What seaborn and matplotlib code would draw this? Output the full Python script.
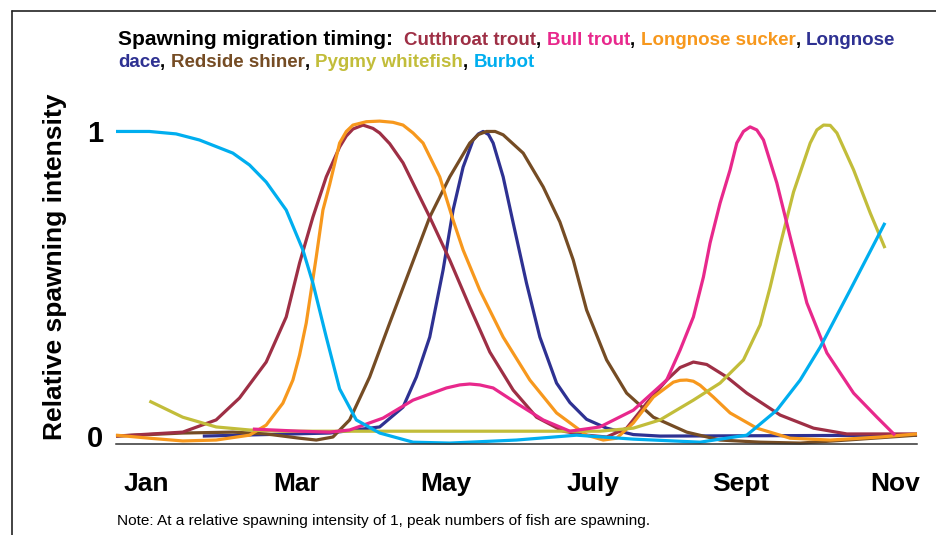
"""
Recriação do gráfico de época de migração para desova.
"""

import pandas as pd
import matplotlib.pyplot as plt
import seaborn as sns
from matplotlib.lines import Line2D

# Posição em meses (0 = início de jan, 12 = fim de dez) e intensidade relativa
cutthroat_x = [0.0, 1.0, 1.5, 1.85, 2.25, 2.55, 2.75, 2.95, 3.15, 3.35, 3.45, 3.55, 3.7, 3.85, 3.95,
               4.1, 4.3, 4.7, 5.0, 5.3, 5.6, 5.95, 6.3, 6.7, 7.05, 7.35, 7.65, 7.95, 8.25, 8.45,
               8.65, 8.85, 9.15, 9.45, 9.95, 10.45, 10.95, 12.0]
cutthroat_y = [0.0, 0.013, 0.053, 0.125, 0.243, 0.391, 0.568, 0.719, 0.851, 0.949, 0.985, 1.008,
               1.021, 1.01, 0.995, 0.96, 0.897, 0.719, 0.578, 0.424, 0.276, 0.151, 0.062, 0.016,
               0.003, -0.003, 0.026, 0.108, 0.184, 0.225, 0.243, 0.235, 0.194, 0.141, 0.069, 0.026,
               0.007, 0.007]

bull_x = [2.05, 2.75, 3.2, 3.5, 4.0, 4.45, 4.95, 5.15, 5.3, 5.45, 5.65, 6.0, 6.4, 6.8, 7.25, 7.75,
          8.25, 8.45, 8.65, 8.8, 8.9, 9.05, 9.2, 9.3, 9.4, 9.5, 9.6, 9.7, 9.9, 10.1, 10.35, 10.65,
          11.05, 11.4, 11.67]
bull_y = [0.023, 0.016, 0.013, 0.02, 0.059, 0.118, 0.158, 0.168, 0.171, 0.168, 0.158, 0.108, 0.053,
          0.016, 0.030, 0.085, 0.184, 0.282, 0.391, 0.522, 0.634, 0.765, 0.874, 0.962, 1.0, 1.015,
          1.005, 0.972, 0.831, 0.654, 0.437, 0.273, 0.141, 0.062, 0.003]

sucker_x = [0.0, 0.5, 1.0, 1.5, 2.0, 2.25, 2.5, 2.65, 2.75, 2.85, 3.0, 3.1, 3.2, 3.35, 3.45, 3.55,
            3.75, 3.95, 4.15, 4.3, 4.45, 4.6, 4.85, 5.05, 5.2, 5.45, 5.8, 6.2, 6.6, 7.05, 7.3, 7.5,
            7.75, 8.05, 8.35, 8.45, 8.55, 8.65, 8.75, 8.95, 9.2, 9.6, 10.1, 10.7, 11.45, 12.0]
sucker_y = [0.003, -0.007, -0.016, -0.013, 0.003, 0.036, 0.108, 0.184, 0.266, 0.371, 0.588, 0.742,
            0.825, 0.962, 1.0, 1.021, 1.032, 1.034, 1.03, 1.021, 0.995, 0.962, 0.851, 0.709, 0.611,
            0.479, 0.325, 0.184, 0.076, 0.003, -0.013, -0.007, 0.043, 0.128, 0.177, 0.183, 0.184,
            0.18, 0.167, 0.128, 0.076, 0.026, -0.007, -0.013, -0.003, 0.007]

dace_x = [1.3, 3.2, 3.95, 4.3, 4.5, 4.7, 4.9, 5.05, 5.2, 5.35, 5.43, 5.5, 5.58, 5.65, 5.8, 5.95,
          6.15, 6.35, 6.6, 6.8, 7.05, 7.35, 7.75, 8.15, 12.0]
dace_y = [0.0, 0.01, 0.03, 0.095, 0.194, 0.325, 0.545, 0.742, 0.883, 0.972, 0.992, 1.0, 0.99, 0.962,
          0.851, 0.70, 0.502, 0.325, 0.174, 0.11, 0.055, 0.026, 0.005, 0.0, 0.003]

shiner_x = [0.0, 1.0, 1.75, 2.25, 2.75, 3.0, 3.25, 3.5, 3.8, 4.1, 4.4, 4.7, 5.0, 5.3, 5.43, 5.55,
            5.68, 5.8, 6.1, 6.4, 6.65, 6.85, 7.05, 7.35, 7.65, 8.05, 8.55, 9.05, 9.65, 10.25,
            10.95, 12.0]
shiner_y = [0.0, 0.01, 0.013, 0.007, -0.007, -0.013, -0.003, 0.053, 0.194, 0.371, 0.545, 0.719,
            0.851, 0.962, 0.99, 1.0, 1.0, 0.989, 0.929, 0.818, 0.703, 0.578, 0.414, 0.250, 0.141,
            0.062, 0.013, -0.013, -0.02, -0.023, -0.013, 0.003]

whitefish_x = [0.5, 1.0, 1.5, 2.0, 2.5, 4.25, 7.25, 7.75, 8.15, 8.65, 9.05, 9.4, 9.65, 9.8, 9.95,
               10.15, 10.4, 10.5, 10.6, 10.7, 10.8, 11.05, 11.3, 11.52]
whitefish_y = [0.115, 0.062, 0.03, 0.02, 0.016, 0.016, 0.016, 0.026, 0.053, 0.118, 0.174, 0.25,
               0.365, 0.489, 0.627, 0.801, 0.962, 1.005, 1.021, 1.02, 0.995, 0.874, 0.732, 0.617]

burbot_x = [0.0, 0.5, 0.9, 1.25, 1.75, 2.0, 2.25, 2.55, 2.8, 2.95, 3.15, 3.35, 3.6, 3.95, 4.45, 5.0,
            6.0, 6.9, 7.75, 8.75, 9.45, 9.9, 10.25, 10.55, 11.0, 11.52]
burbot_y = [1.0, 1.0, 0.992, 0.972, 0.929, 0.89, 0.834, 0.742, 0.611, 0.502, 0.325, 0.155, 0.053,
            0.010, -0.02, -0.023, -0.013, 0.003, -0.01, -0.02, 0.003, 0.085, 0.184, 0.292, 0.48,
            0.70]

mes_labels = ['Jan', 'Mar', 'May', 'July', 'Sept', 'Nov']
mes_pos = [0.45, 2.7, 4.94, 7.15, 9.36, 11.67]

cores = {
    'Longnose dace': '#2E3192',
    'Redside shiner': '#754C24',
    'Cutthroat trout': '#9E2F45',
    'Longnose sucker': '#F7981D',
    'Pygmy whitefish': '#C2BD3A',
    'Bull trout': '#E8288C',
    'Burbot': '#00AEEF',
}

series = {
    'Longnose dace': (dace_x, dace_y),
    'Redside shiner': (shiner_x, shiner_y),
    'Cutthroat trout': (cutthroat_x, cutthroat_y),
    'Longnose sucker': (sucker_x, sucker_y),
    'Pygmy whitefish': (whitefish_x, whitefish_y),
    'Bull trout': (bull_x, bull_y),
    'Burbot': (burbot_x, burbot_y),
}

sns.set_theme(style="white")
plt.rcParams['font.family'] = ['Liberation Sans', 'DejaVu Sans']
plt.rcParams['text.color'] = 'black'
plt.rcParams['xtick.color'] = 'black'
plt.rcParams['ytick.color'] = 'black'

df = pd.concat(
    [pd.DataFrame({'mes': x, 'intensidade': y, 'especie': nome}) for nome, (x, y) in series.items()],
    ignore_index=True,
)

W, H = 936, 535
fig = plt.figure(figsize=(W / 100, H / 100), dpi=100)
ax = fig.add_axes([116 / W, 1 - 444 / H, (917 - 116) / W, (444 - 101) / H])

sns.lineplot(data=df, x='mes', y='intensidade', hue='especie', hue_order=list(series),
             palette=cores, estimator=None, sort=False, linewidth=2.3, legend=False, ax=ax)
for linha in ax.lines:
    linha.set_solid_capstyle('butt')
    linha.set_solid_joinstyle('round')
    linha.set_clip_on(False)

ax.set_xlim(0, 12)
ax.set_ylim(-0.026, 1.1)
ax.set_xlabel('')
ax.set_ylabel('')
for lado in ['left', 'top', 'right']:
    ax.spines[lado].set_visible(False)
ax.spines['bottom'].set_color('#333333')
ax.spines['bottom'].set_linewidth(1.1)

ax.set_xticks(range(13))
ax.set_xticklabels([])
ax.set_xticks(mes_pos, minor=True)
ax.set_xticklabels(mes_labels, minor=True, fontsize=19, fontweight='bold')
ax.tick_params(axis='x', which='major', direction='inout', length=6, width=1.1, color='#333333')
ax.tick_params(axis='x', which='minor', length=0, pad=20, labelcolor='black')

ax.set_yticks([0, 1])
ax.set_yticklabels(['0', '1'], fontsize=21, fontweight='bold')
ax.tick_params(axis='y', length=0, pad=9, labelcolor='black')

fig.text(55 / W, 1 - 267 / H, 'Relative spawning intensity', rotation=90, ha='center',
         va='center', fontsize=19, fontweight='bold')

# título com nomes coloridos
linha1 = [('Spawning migration timing:  ', 'black', 15), ('Cutthroat trout', cores['Cutthroat trout'], 13.5),
          (', ', 'black', 13.5), ('Bull trout', cores['Bull trout'], 13.5), (', ', 'black', 13.5),
          ('Longnose sucker', cores['Longnose sucker'], 13.5), (', ', 'black', 13.5),
          ('Longnose', cores['Longnose dace'], 13.5)]
linha2 = [('dace', cores['Longnose dace'], 13.5), (', ', 'black', 13.5),
          ('Redside shiner', cores['Redside shiner'], 13.5), (', ', 'black', 13.5),
          ('Pygmy whitefish', cores['Pygmy whitefish'], 13.5), (', ', 'black', 13.5),
          ('Burbot', cores['Burbot'], 13.5)]


def texto_colorido(partes, x, y):
    s, c, t = partes[0]
    txt = fig.text(x, y, s, color=c, fontsize=t, fontweight='bold', va='baseline', ha='left')
    for s, c, t in partes[1:]:
        txt = ax.annotate(s, xy=(1, 0), xycoords=txt, va='bottom', ha='left', color=c,
                          fontsize=t, fontweight='bold', annotation_clip=False)


texto_colorido(linha1, 118 / W, 1 - 45 / H)
texto_colorido(linha2, 118 / W, 1 - 67 / H)

fig.text(117 / W, 1 - 521 / H,
         'Note: At a relative spawning intensity of 1, peak numbers of fish are spawning.',
         fontsize=11.1, va='center', ha='left')

# moldura
fig.add_artist(Line2D([12 / W, 12 / W], [1 - 11 / H, 0], transform=fig.transFigure,
                      color='#222222', linewidth=1.2))
fig.add_artist(Line2D([12 / W, 1], [1 - 11 / H, 1 - 11 / H], transform=fig.transFigure,
                      color='#222222', linewidth=1.2))

fig.savefig('out.png', dpi=100)
